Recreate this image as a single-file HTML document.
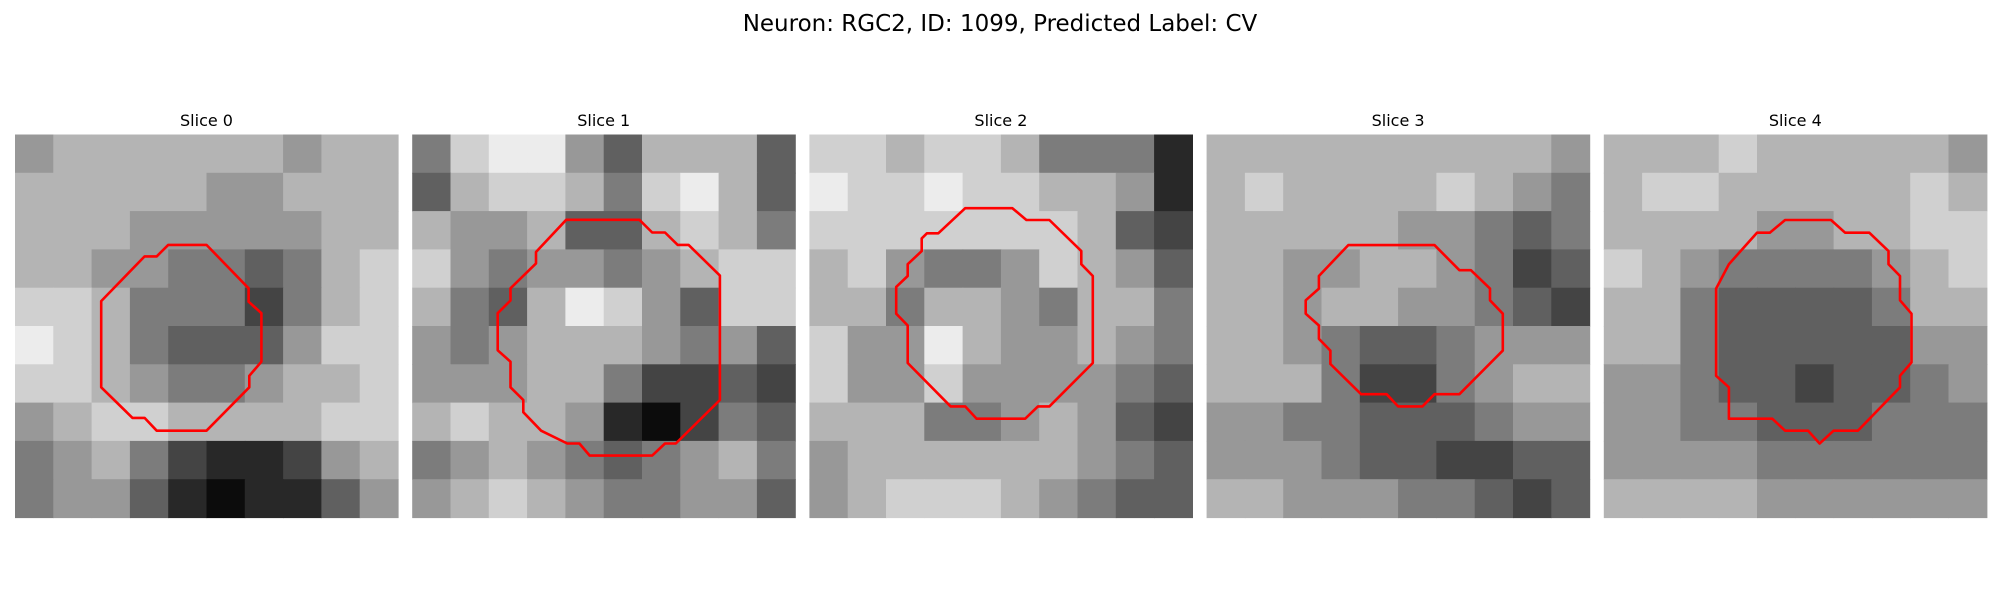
<!DOCTYPE html>
<html><head><meta charset="utf-8"><style>
html,body{margin:0;padding:0;background:#fff;width:2000px;height:600px;overflow:hidden}
svg{display:block}
text{font-family:"DejaVu Sans","Liberation Sans",sans-serif;fill:#000}
</style></head><body>
<svg id="fig" width="2000" height="600" viewBox="0 0 2000 600" xmlns="http://www.w3.org/2000/svg">
<text x="1000" y="31" font-size="23" text-anchor="middle">Neuron: RGC2, ID: 1099, Predicted Label: CV</text>
</svg>
<script>
const sliceTitles = ["Slice 0","Slice 1","Slice 2","Slice 3","Slice 4"];
const gray0 = [
"5666666566","6666655666","6665555566","6655443467","7764442467",
"8764333577","7765445667","5677666677","4564211256","4553101135"];
const gray1 = [
"4788536663","3677647863","6556336764","7545545677","6436875377",
"5456665453","5556642232","6766510243","4565434564","5676544553"];
const gray2 = [
"7767764441","8778776651","7777777632","6754457653","6646654664",
"7558655654","7557555543","6664456532","5666666543","5677765433"];
const gray3 = [
"6666666665","6766667654","6666655434","6655665423","6656655432",
"6654334555","6664224566","5544333455","5554332233","6655544323"];
const gray4 = [
"6667666665","6776666676","6666556677","7654444567","6643333466",
"6643333355","5543323345","5544333444","5555444444","6666555555"];
const grays = [gray0, gray1, gray2, gray3, gray4];
const contour0 = [[12,8.65],[15,8.65],[18.3,12.05],[18.3,13.1],[19.3,14],[19.3,17.8],[18.35,18.9],[18.35,19.8],[15,23.2],[11.1,23.2],[10.15,22.2],[9.2,22.2],[6.75,19.8],[6.75,13.05],[10.15,9.55],[11.1,9.55]];
const contour1 = [[12.06,6.68],[17.8,6.68],[18.8,7.68],[19.8,7.68],[20.8,8.65],[21.65,8.65],[24.1,11.05],[24.1,20.8],[20.65,24.2],[19.8,24.2],[18.8,25.15],[13.9,25.15],[13.1,24.2],[12.15,24.2],[10.1,23.2],[8.7,21.75],[8.7,20.8],[7.7,19.8],[7.7,17.8],[6.7,16.9],[6.7,14],[7.7,13],[7.7,12.05],[9.7,10.1],[9.7,9.2]];
const contour2 = [[12.2,5.77],[15.9,5.77],[17,6.7],[18.8,6.7],[21.3,9.13],[21.3,10.16],[22.2,11.08],[22.2,17.9],[18.8,21.3],[17.9,21.3],[16.9,22.26],[13.1,22.26],[12.2,21.3],[11.06,21.3],[7.7,17.9],[7.7,14.96],[6.8,14.04],[6.8,11.94],[7.7,11.08],[7.7,10.16],[8.8,9.13],[8.8,8.14],[9.2,7.74],[10.1,7.74]];
const contour3 = [[11.1,8.66],[17.85,8.66],[19.8,10.63],[20.7,10.63],[22.2,12.07],[22.2,12.99],[23.2,14.04],[23.2,16.93],[19.8,20.34],[17.85,20.34],[16.9,21.3],[15,21.3],[14.1,20.34],[12.1,20.34],[9.7,17.98],[9.7,16.93],[8.8,16],[8.8,14.96],[7.76,14.04],[7.76,12.99],[8.8,12.07],[8.8,11.08]];
const contour4 = [[14.2,6.7],[17.8,6.7],[18.9,7.69],[20.8,7.69],[22.3,9.13],[22.3,10.16],[23.2,11.08],[23.2,12.99],[24.1,14.04],[24.1,17.85],[23.2,18.9],[23.2,19.8],[19.9,23.2],[18,23.2],[16.9,24.2],[16,23.2],[14.2,23.2],[13.2,22.26],[9.8,22.26],[9.8,19.8],[8.8,18.9],[8.8,12.07],[9.8,10.16],[12,7.69],[13,7.69]];
const contours = [contour0, contour1, contour2, contour3, contour4];

const NS = "http://www.w3.org/2000/svg";
const svg = document.getElementById('fig');
const panelX0 = 15, panelStep = 397.2, panelY = 134.5, panelSize = 383, units = 30;
function px(i){ return panelX0 + i*panelStep; }
function sx(i, u){ return px(i) + u/units*panelSize; }
function sy(u){ return panelY + u/units*panelSize; }
function grayColor(v){ const g = Math.max(0, Math.min(255, Math.round(12 + v*28))); return `rgb(${g},${g},${g})`; }

sliceTitles.forEach((t, i) => {
  const g = document.createElementNS(NS, 'g');
  
  
  const title = document.createElementNS(NS, 'text');
  
  
  title.setAttribute('x', px(i) + panelSize/2);
  title.setAttribute('y', 126);
  title.setAttribute('font-size', '16');
  title.setAttribute('text-anchor', 'middle');
  title.textContent = t;
  g.appendChild(title);
  const img = document.createElementNS(NS, 'g');
  
  
  const rows = grays[i];
  const n = rows.length;
  rows.forEach((row, r) => {
    for (let c = 0; c < row.length; c++) {
      const rect = document.createElementNS(NS, 'rect');
      
      
      const cw = units / row.length, ch = units / n;
      rect.setAttribute('x', sx(i, c*cw));
      rect.setAttribute('y', sy(r*ch));
      rect.setAttribute('width', panelSize/row.length + 0.6);
      rect.setAttribute('height', panelSize/n + 0.6);
      rect.setAttribute('fill', grayColor(+row[c]));
      img.appendChild(rect);
    }
  });
  g.appendChild(img);
  const poly = document.createElementNS(NS, 'polygon');
  
  
  poly.setAttribute('points', contours[i].map(p => sx(i, p[0]).toFixed(1) + ',' + sy(p[1]).toFixed(1)).join(' '));
  poly.setAttribute('fill', 'none');
  poly.setAttribute('stroke', '#ff0000');
  poly.setAttribute('stroke-width', '2.6');
  poly.setAttribute('stroke-linejoin', 'round');
  g.appendChild(poly);
  svg.appendChild(g);
});
</script>
</body></html>
